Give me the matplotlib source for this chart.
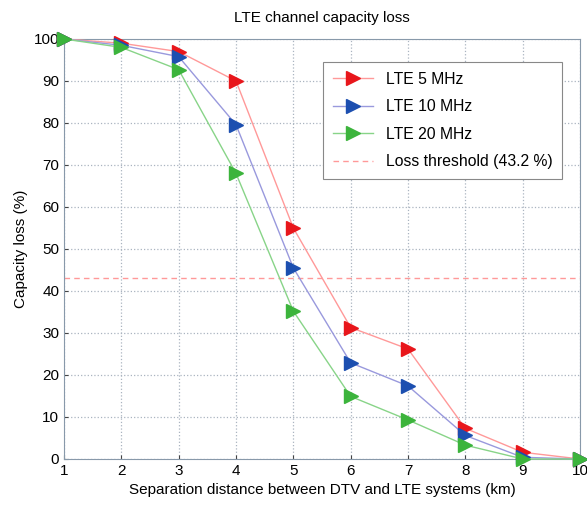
import matplotlib
matplotlib.use("Agg")
import matplotlib.pyplot as plt

plt.rcParams["font.family"] = ["Liberation Sans", "DejaVu Sans"]

distance_km = [1, 2, 3, 4, 5, 6, 7, 8, 9, 10]
loss_5mhz = [100, 99, 97, 90, 55, 31.3, 26.2, 7.3, 1.6, 0]
loss_10mhz = [100, 98.5, 95.8, 79.6, 45.5, 22.9, 17.4, 5.6, 0.4, 0]
loss_20mhz = [100, 98, 92.7, 68, 35.2, 14.9, 9.3, 3.3, 0, 0]
threshold = 43.2

series = [
    ("LTE 5 MHz", loss_5mhz, "#ff9999", "#e8161b"),
    ("LTE 10 MHz", loss_10mhz, "#9999dd", "#1c4fb0"),
    ("LTE 20 MHz", loss_20mhz, "#88d488", "#3cb43c"),
]

fig = plt.figure(figsize=(5.87, 5.13), dpi=100)
ax = fig.add_axes([64 / 587, 1 - 459 / 513, 516 / 587, 420 / 513])

for label, vals, line_c, mark_c in series:
    ax.plot(distance_km, vals, color=line_c, linewidth=1.0, marker=">",
            markersize=10, markerfacecolor=mark_c, markeredgecolor=mark_c,
            label=label, clip_on=False, zorder=3)

ax.axhline(threshold, color="#ff9999", linestyle="--", linewidth=1.0,
           dashes=(4, 3), label="Loss threshold (43.2 %)")

ax.set_xlim(1, 10)
ax.set_ylim(0, 100)
ax.set_xticks(range(1, 11))
ax.set_yticks(range(0, 101, 10))
ax.tick_params(direction="in", labelsize=11, length=3, colors="#444444",
               labelcolor="black")
ax.grid(True, color="#aab4c0", linestyle=":", linewidth=0.9)
for s in ax.spines.values():
    s.set_color("#8899aa")
    s.set_linewidth(0.8)

ax.set_title("LTE channel capacity loss", fontsize=11, pad=12)
ax.set_xlabel("Separation distance between DTV and LTE systems (km)", fontsize=11)
ax.set_ylabel("Capacity loss (%)", fontsize=11)

leg = ax.legend(loc="upper right", bbox_to_anchor=(0.965, 0.945), fontsize=11.3,
                fancybox=False, edgecolor="#888888", framealpha=1,
                handlelength=2.6, borderpad=0.6, labelspacing=0.8,
                borderaxespad=0)
leg.get_frame().set_linewidth(0.8)

fig.savefig("out.png", dpi=100)
